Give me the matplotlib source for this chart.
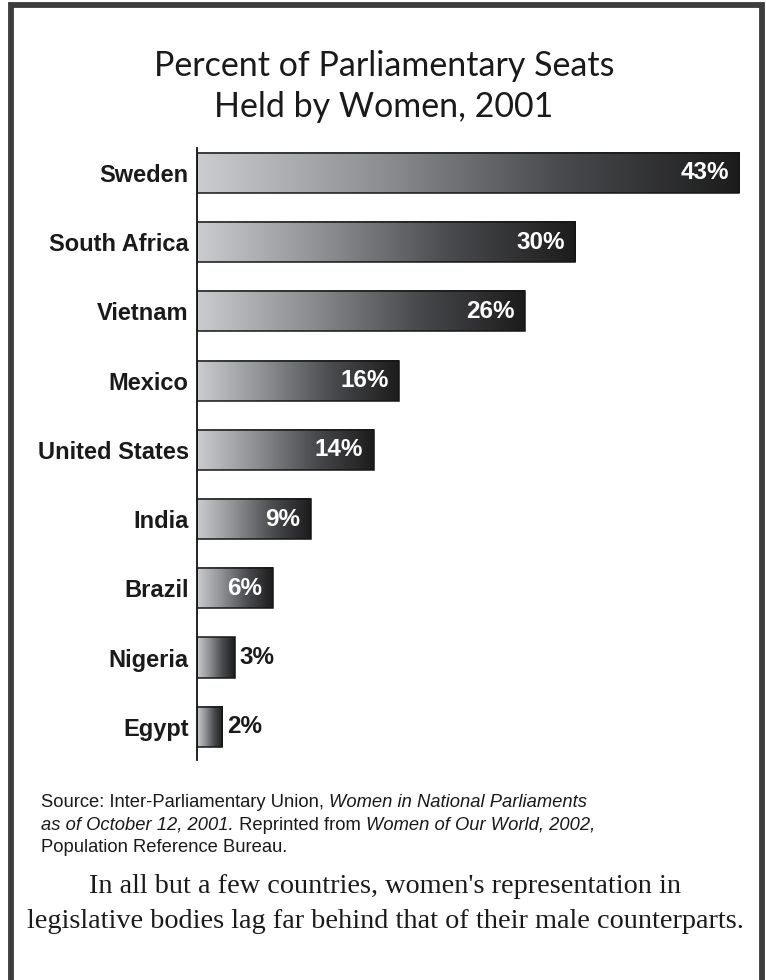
import numpy as np
import matplotlib
matplotlib.use('Agg')
import matplotlib.pyplot as plt
from matplotlib.colors import LinearSegmentedColormap
from matplotlib.lines import Line2D
from matplotlib.patches import Rectangle

countries = ['Sweden', 'South Africa', 'Vietnam', 'Mexico', 'United States',
             'India', 'Brazil', 'Nigeria', 'Egypt']
percent = [43, 30, 26, 16, 14, 9, 6, 3, 2]

title_lines = ['Percent of Parliamentary Seats', 'Held by Women, 2001']
source_lines = [
    [('Source: Inter-Parliamentary Union, ', 'normal'),
     ('Women in National Parliaments', 'italic')],
    [('as of October 12, 2001.', 'italic'),
     (' Reprinted from ', 'normal'),
     ('Women of Our World, 2002,', 'italic')],
    [('Population Reference Bureau.', 'normal')],
]
caption_lines = ["In all but a few countries, women's representation in",
                 "legislative bodies lag far behind that of their male counterparts."]

W, H = 766, 980
fig = plt.figure(figsize=(W / 100, H / 100), dpi=100)

def fx(px):
    return px / W

def fy(py):
    return 1 - py / H

# frame around the panel (open at the bottom)
frame = Line2D([fx(11), fx(11), fx(761.5), fx(761.5)],
               [fy(H), fy(5.5), fy(5.5), fy(H)],
               transform=fig.transFigure, color='#3d3d3d', lw=4.2,
               solid_joinstyle='miter')
fig.add_artist(frame)

for line, base in zip(title_lines, [76, 117]):
    fig.text(fx(384), fy(base), line, ha='center', va='baseline', fontsize=24.5,
             family='Lato', color='#1a1a1a')

ax = fig.add_axes([fx(197), fy(760), fx(752) - fx(197), fy(148) - fy(760)])

grad_cmap = LinearSegmentedColormap.from_list(
    'bar_grad', ['#cbcccf', '#8e8f92', '#4a4b4e', '#1c1c1c'])
grad = np.linspace(0, 1, 256).reshape(1, -1)
bar_h = 0.58

for i, (name, v) in enumerate(zip(countries, percent)):
    y0, y1 = i - bar_h / 2, i + bar_h / 2
    ax.imshow(grad, cmap=grad_cmap, aspect='auto', extent=(0, v, y1, y0),
              interpolation='bilinear', zorder=2)
    ax.add_patch(Rectangle((0, y0), v, bar_h, fill=False, edgecolor='#161616',
                           lw=1.1, zorder=3))
    if v >= 5:
        ax.annotate(f'{v}%', (v, i), xytext=(-7.5, 0), textcoords='offset points',
                    ha='right', va='center', color='white', fontsize=17.5,
                    fontweight='bold', family='Liberation Sans', zorder=4)
    else:
        ax.annotate(f'{v}%', (v, i), xytext=(3.5, 0), textcoords='offset points',
                    ha='left', va='center', color='#1a1a1a', fontsize=17.5,
                    fontweight='bold', family='Liberation Sans', zorder=4)

ax.set_xlim(0, 44)
ax.set_ylim(8.48, -0.36)
ax.set_yticks(range(len(countries)))
ax.set_yticklabels(countries, fontsize=17, fontweight='bold',
                   family='Liberation Sans', color='#1a1a1a')
ax.tick_params(axis='y', length=0, pad=6)
ax.set_xticks([])
for side in ('top', 'right', 'bottom'):
    ax.spines[side].set_visible(False)
ax.spines['left'].set_linewidth(1.3)
ax.spines['left'].set_color('#111111')

# source note with mixed roman/italic runs
renderer = fig.canvas.get_renderer()
baselines = [807, 829.5, 852]
for line, base in zip(source_lines, baselines):
    x = fx(41)
    for txt, style in line:
        t = fig.text(x, fy(base), txt, ha='left', va='baseline', fontsize=13.2,
                     style=style, family='Liberation Sans', color='#1a1a1a')
        bb = t.get_window_extent(renderer=renderer)
        x = bb.x1 / W

for line, base in zip(caption_lines, [893, 928]):
    fig.text(fx(385), fy(base), line, ha='center', va='baseline', fontsize=20.3,
             family='Liberation Serif', color='#1a1a1a')

fig.savefig('out.png', dpi=100)
